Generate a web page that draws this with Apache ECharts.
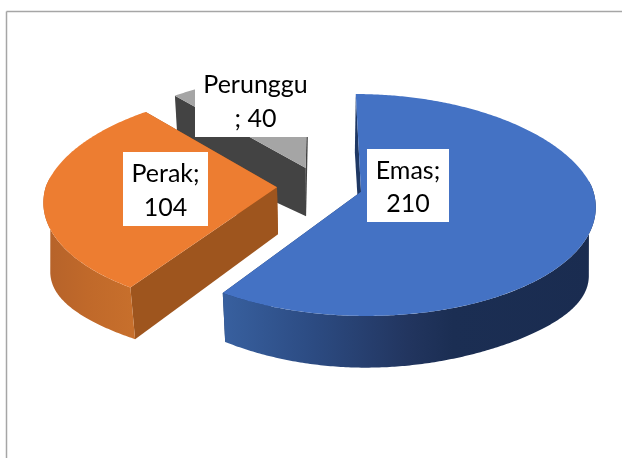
<!DOCTYPE html>
<html><head><meta charset="utf-8">
<style>html,body{margin:0;padding:0;background:#fff}#c{width:622px;height:458px}</style>
<script src="https://cdn.jsdelivr.net/npm/echarts@6/dist/echarts.min.js"></script>
</head><body><div id="c"></div>
<script>
const categories = ['Emas', 'Perak', 'Perunggu'];
const values = [210, 104, 40];
const labelLines = [['Emas;', '210'], ['Perak;', '104'], ['Perunggu', '; 40']];
const topColors = ['#4472C4', '#ED7D31', '#A5A5A5'];
const sideColors = ['#1F3864', '#9E551E', '#434343'];
const wallStops = [
  [[0, '#38609F'], [0.22, '#2D4D85'], [0.5, '#22355F'], [0.62, '#1B2E53'], [1, '#1A2C50']],
  [[0, '#B5622A'], [0.5, '#C0692A'], [1, '#C76F2C']],
  [[0, '#6B6B6B'], [1, '#6B6B6B']]
];
const wallRanges = [[223, 594], [44, 132], [174, 306]];
const labelBoxes = [[367, 149, 82, 73], [123, 152, 85, 74], [195, 63, 121, 74]];
const sliceNudge = [1.5, 0, 1];

const EXPLODE = 0.182, CX = 319, CY = 186, A = 231, B = 108, K = 0.119, KFAR = 0.03;
const SX = 0.975, B_LOW = 101, K_LOW = 0.2, DEPTH = 47, SIDE_DROP = 12;
const total = values.reduce((a, b) => a + b, 0);

function proj(theta, r, off, lower, nudge) {
  const x = r * Math.sin(theta) + off[0];
  const y = r * Math.cos(theta) + off[1];
  const wx = 1 + K * y + KFAR * Math.max(y, 0);
  const px = A * x / wx + nudge;
  if (lower) return [CX + px * SX, CY + DEPTH - B_LOW * y / (1 + K_LOW * y) + SIDE_DROP * Math.pow(x, 4)];
  return [CX + px, CY - B * y / (1 + K * y)];
}
function arc(a0, a1, off, lower, nudge) {
  const pts = [], n = Math.max(2, Math.ceil(Math.abs(a1 - a0) / 0.01));
  for (let i = 0; i <= n; i++) pts.push(proj(a0 + (a1 - a0) * i / n, 1, off, lower, nudge));
  return pts;
}
function sliceAngles(idx) {
  let s = 0;
  for (let i = 0; i < idx; i++) s += values[i];
  return [s / total * 2 * Math.PI, (s + values[idx]) / total * 2 * Math.PI];
}
const poly = (points, fill) => ({ type: 'polygon', shape: { points }, style: { fill } });

function renderItem(params, api) {
  const idx = api.value(0);
  const [a0, a1] = sliceAngles(idx);
  const mid = (a0 + a1) / 2;
  const off = [EXPLODE * Math.sin(mid), EXPLODE * Math.cos(mid)];
  const n = sliceNudge[idx];
  const apexT = proj(0, 0, off, false, n), apexB = proj(0, 0, off, true, n);
  const children = [];
  children.push(poly([apexT, proj(a1, 1, off, false, n), proj(a1, 1, off, true, n), apexB], sideColors[idx]));
  children.push(poly([apexT, proj(a0, 1, off, false, n), proj(a0, 1, off, true, n), apexB], sideColors[idx]));
  const lo = Math.max(a0, Math.PI * 0.47), hi = Math.min(a1, Math.PI * 1.53);
  const loB = Math.max(a0, Math.PI * 0.55), hiB = Math.min(a1, Math.PI * 1.45);
  if (hi > lo) {
    const r = wallRanges[idx];
    const grad = new echarts.graphic.LinearGradient(r[0], 0, r[1], 0,
      wallStops[idx].map(s => ({ offset: s[0], color: s[1] })), true);
    children.push(poly(arc(lo, hi, off, false, n).concat(arc(hiB, loB, off, true, n)), grad));
  }
  children.push(poly([apexT].concat(arc(a0, a1, off, false, n)), topColors[idx]));
  return { type: 'group', children };
}

function renderLabels(params, api) {
  const idx = api.value(0);
  const b = labelBoxes[idx];
  const lines = labelLines[idx];
  const line = (text, f) => ({ type: 'text', style: { x: b[0] + b[2] / 2, y: b[1] + b[3] * f, text, fill: '#000',
    font: '25px Lato', align: 'center', verticalAlign: 'middle' } });
  return {
    type: 'group',
    children: [
      { type: 'rect', shape: { x: b[0], y: b[1], width: b[2], height: b[3] }, style: { fill: '#fff' } },
      line(lines[0], 0.3), line(lines[1], 0.75)
    ]
  };
}

const order = [2, 1, 0];
const chart = echarts.init(document.getElementById('c'), null, { renderer: 'canvas' });
chart.setOption({
  animation: false,
  backgroundColor: '#fff',
  graphic: [
    { type: 'line', shape: { x1: 6.5, y1: 11.5, x2: 622, y2: 11.5 }, style: { stroke: '#A6A6A6', lineWidth: 1.5 } },
    { type: 'line', shape: { x1: 6.5, y1: 11.5, x2: 6.5, y2: 458 }, style: { stroke: '#A6A6A6', lineWidth: 1.5 } }
  ],
  series: [
    { type: 'custom', coordinateSystem: 'none', silent: true, z: 2, renderItem,
      data: order.map(i => [i, values[i], categories[i]]) },
    { type: 'custom', coordinateSystem: 'none', silent: true, z: 3, renderItem: renderLabels,
      data: order.map(i => [i, values[i], categories[i]]) }
  ]
});
</script></body></html>
